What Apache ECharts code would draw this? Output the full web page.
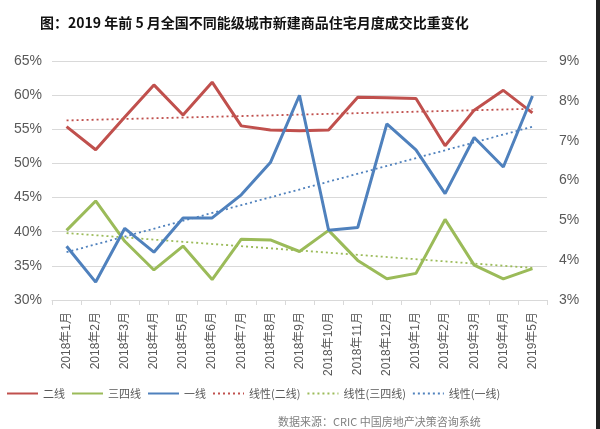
<!DOCTYPE html>
<html><head><meta charset="utf-8">
<script src="https://cdn.jsdelivr.net/npm/echarts@6/dist/echarts.min.js"></script>
<style>html,body{margin:0;padding:0;background:#fff}#c{width:600px;height:429px}</style>
</head><body><div id="c"></div>
<script>
const categories = ['2018年1月','2018年2月','2018年3月','2018年4月','2018年5月','2018年6月','2018年7月','2018年8月','2018年9月','2018年10月','2018年11月','2018年12月','2019年1月','2019年2月','2019年3月','2019年4月','2019年5月'];
// 二线 (left axis, %)
const tier2 = [55.4, 52.0, 56.8, 61.5, 57.1, 61.9, 55.5, 54.9, 54.8, 54.9, 59.7, 59.6, 59.5, 52.6, 57.8, 60.7, 57.4];
// 三四线 (left axis, %)
const tier34 = [40.2, 44.5, 38.6, 34.4, 37.9, 33.0, 38.9, 38.8, 37.1, 40.2, 35.8, 33.1, 33.9, 41.8, 35.1, 33.1, 34.6];
// 一线 (right axis, %)
const tier1 = [4.35, 3.45, 4.80, 4.20, 5.06, 5.06, 5.64, 6.45, 8.14, 4.75, 4.82, 7.42, 6.77, 5.67, 7.08, 6.34, 8.12];
// trendline endpoints [first month, last month]
const trend2 = [56.3, 58.0];
const trend34 = [39.8, 34.7];
const trend1 = [4.20, 7.35];
const leftTicks = [30, 65, 5];
const rightTicks = [3, 9, 1];

const RED = '#c0504d', GREEN = '#9bbb59', BLUE = '#4f81bd';
const FONT = '"Liberation Sans","Noto Sans CJK SC",sans-serif';
const last = categories.length - 1;
function trendData(t){ return [[categories[0], t[0]], [categories[last], t[1]]]; }

const chart = echarts.init(document.getElementById('c'));
chart.setOption({
  animation: false,
  textStyle: {fontFamily: FONT},
  title: [{
    text: '图：2019 年前 5 月全国不同能级城市新建商品住宅月度成交比重变化',
    left: 35, top: 11,
    textStyle: {fontSize: 14, fontWeight: 'bold', color: '#111', fontFamily: '"Noto Sans CJK SC",sans-serif'}
  },{
    text: '数据来源：CRIC 中国房地产决策咨询系统',
    left: 273, top: 411,
    textStyle: {fontSize: 11, fontWeight: 'normal', color: '#808080', fontFamily: '"Noto Sans CJK SC",sans-serif'}
  }],
  legend: {
    orient: 'horizontal',
    left: 1, top: 383, itemWidth: 31, itemHeight: 10, itemGap: 6,
    itemStyle: {opacity: 0},
    textStyle: {fontSize: 11, color: '#595959', fontFamily: '"Noto Sans CJK SC",sans-serif'},
    data: ['二线','三四线','一线','线性(二线)','线性(三四线)','线性(一线)']
  },
  grid: {left: 52, right: 53, top: 61, bottom: 129},
  xAxis: {
    type: 'category', data: categories, boundaryGap: true,
    axisLine: {lineStyle: {color: '#d9d9d9'}},
    axisTick: {show: true, length: 5, lineStyle: {color: '#d9d9d9'}},
    axisLabel: {rotate: 90, fontSize: 12, color: '#595959', margin: 12, interval: 0}
  },
  yAxis: [{
    type: 'value', min: leftTicks[0], max: leftTicks[1], interval: leftTicks[2],
    axisLabel: {formatter: '{value}%', fontSize: 14, color: '#595959', margin: 10},
    axisLine: {show: false}, axisTick: {show: false},
    splitLine: {lineStyle: {color: '#d9d9d9'}}
  },{
    type: 'value', min: rightTicks[0], max: rightTicks[1], interval: rightTicks[2],
    axisLabel: {formatter: '{value}%', fontSize: 14, color: '#595959', margin: 12},
    axisLine: {show: false}, axisTick: {show: false}, splitLine: {show: false}
  }],
  series: [
    {name: '二线', type: 'line', data: tier2, yAxisIndex: 0, symbol: 'none', lineStyle: {color: RED, width: 3}, itemStyle: {color: RED}, z: 5},
    {name: '三四线', type: 'line', data: tier34, yAxisIndex: 0, symbol: 'none', lineStyle: {color: GREEN, width: 3}, itemStyle: {color: GREEN}, z: 5},
    {name: '一线', type: 'line', data: tier1, yAxisIndex: 1, symbol: 'none', lineStyle: {color: BLUE, width: 3}, itemStyle: {color: BLUE}, z: 6},
    {name: '线性(二线)', type: 'line', data: trendData(trend2), yAxisIndex: 0, symbol: 'none', lineStyle: {color: RED, width: 1.8, type: [2, 3]}, itemStyle: {color: RED}, z: 3},
    {name: '线性(三四线)', type: 'line', data: trendData(trend34), yAxisIndex: 0, symbol: 'none', lineStyle: {color: GREEN, width: 1.8, type: [2, 3]}, itemStyle: {color: GREEN}, z: 3},
    {name: '线性(一线)', type: 'line', data: trendData(trend1), yAxisIndex: 1, symbol: 'none', lineStyle: {color: BLUE, width: 1.8, type: [2, 3]}, itemStyle: {color: BLUE}, z: 3}
  ],
  graphic: [{type: 'rect', shape: {x: 596, y: 0, width: 4, height: 429}, style: {fill: '#222'}}]
});
</script></body></html>
